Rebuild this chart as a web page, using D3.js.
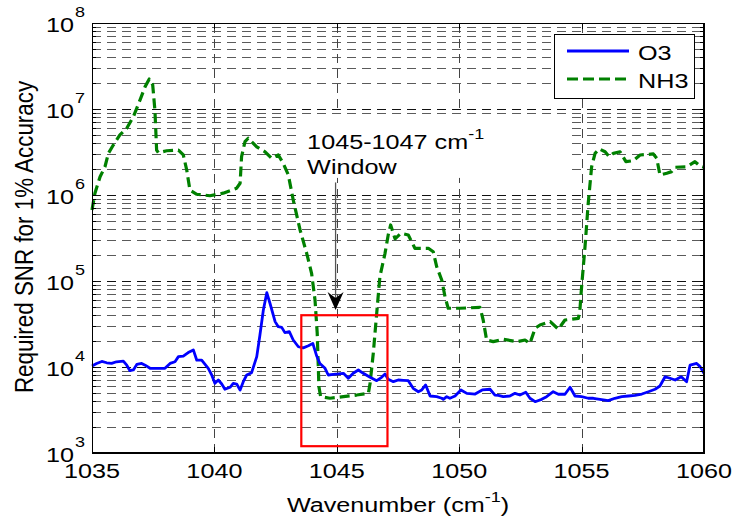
<!DOCTYPE html>
<html>
<head>
<meta charset="utf-8">
<script src="https://cdn.jsdelivr.net/npm/d3@7"></script>
<style>
  html, body { margin: 0; padding: 0; background: #fff; }
  svg { display: block; font-family: Arial, "Liberation Sans", sans-serif; }
</style>
</head>
<body>
<svg id="chart" width="736" height="521"></svg>
<script>
// ---- data -------------------------------------------------------------
const seriesNames = ["O3", "NH3"];

const wavenumberO3 = [
  1035.0, 1035.19, 1035.4, 1035.6, 1035.8, 1036.0, 1036.28, 1036.42, 1036.55, 1036.69,
  1036.83, 1037.03, 1037.17, 1037.37, 1037.64, 1037.98, 1038.19, 1038.39, 1038.53, 1038.73,
  1038.93, 1039.14, 1039.28, 1039.48, 1039.75, 1039.89, 1040.02, 1040.16, 1040.3, 1040.43,
  1040.64, 1040.77, 1040.91, 1041.05, 1041.18, 1041.32, 1041.52, 1041.73, 1041.86, 1042.0,
  1042.14, 1042.27, 1042.48, 1042.61, 1042.75, 1042.88, 1043.06, 1043.22, 1043.43, 1043.63,
  1043.84, 1044.02, 1044.18, 1044.31, 1044.52, 1044.65, 1044.86, 1045.06, 1045.27, 1045.47,
  1045.67, 1045.88, 1046.08, 1046.36, 1046.63, 1046.83, 1046.97, 1047.1, 1047.31, 1047.51,
  1047.72, 1047.92, 1048.12, 1048.33, 1048.47, 1048.63, 1048.81, 1049.08, 1049.29, 1049.35,
  1049.49, 1049.62, 1049.83, 1050.07, 1050.31, 1050.65, 1050.94, 1051.26, 1051.46, 1051.6,
  1051.8, 1052.07, 1052.28, 1052.48, 1052.72, 1052.89, 1053.1, 1053.37, 1053.57, 1053.84,
  1054.05, 1054.32, 1054.53, 1054.73, 1055.0, 1055.27, 1055.48, 1055.75, 1056.09, 1056.36,
  1056.64, 1056.91, 1057.18, 1057.46, 1057.73, 1058.0, 1058.2, 1058.41, 1058.61, 1058.82,
  1059.07, 1059.29, 1059.43, 1059.7, 1059.84, 1060.0
];
const snrO3 = [
  1.03e4, 1.10e4, 1.16e4, 1.12e4, 1.10e4, 1.15e4, 1.17e4, 1.05e4, 9.06e3, 9.23e3,
  1.07e4, 1.10e4, 1.05e4, 9.66e3, 9.66e3, 9.66e3, 1.10e4, 1.15e4, 1.32e4, 1.34e4,
  1.47e4, 1.58e4, 1.20e4, 1.20e4, 9.66e3, 8.07e3, 6.46e3, 7.06e3, 6.34e3, 5.51e3,
  5.81e3, 6.46e3, 6.34e3, 5.41e3, 6.75e3, 8.07e3, 8.59e3, 1.32e4, 2.36e4, 4.60e4,
  7.31e4, 5.51e4, 3.37e4, 2.94e4, 2.89e4, 2.51e4, 2.58e4, 2.06e4, 1.72e4, 1.67e4,
  1.77e4, 1.88e4, 1.34e4, 1.10e4, 9.66e3, 8.07e3, 8.22e3, 8.30e3, 8.45e3, 7.40e3,
  8.45e3, 9.23e3, 8.45e3, 7.59e3, 6.93e3, 7.59e3, 8.30e3, 7.19e3, 6.75e3, 7.06e3,
  7.0e3, 6.93e3, 5.65e3, 5.16e3, 5.41e3, 6.18e3, 4.60e3, 4.52e3, 4.33e3, 4.21e3,
  4.52e3, 4.33e3, 4.60e3, 5.41e3, 4.94e3, 4.85e3, 5.41e3, 5.51e3, 4.72e3, 4.68e3,
  4.52e3, 4.60e3, 4.94e3, 4.72e3, 5.08e3, 4.33e3, 3.95e3, 4.21e3, 4.52e3, 5.16e3,
  4.82e3, 4.82e3, 5.81e3, 4.60e3, 4.52e3, 4.33e3, 4.33e3, 4.21e3, 4.06e3, 4.33e3,
  4.52e3, 4.60e3, 4.68e3, 4.85e3, 5.16e3, 5.51e3, 6.01e3, 7.71e3, 7.40e3, 7.06e3,
  7.71e3, 6.75e3, 1.05e4, 1.10e4, 1.01e4, 8.45e3
];

const wavenumberNH3 = [
  1035.0, 1035.12, 1035.33, 1035.53, 1035.67, 1035.87, 1036.14, 1036.42, 1036.69, 1036.96,
  1037.17, 1037.34, 1037.48, 1037.57, 1037.64, 1037.71, 1038.05, 1038.53, 1038.73, 1038.87,
  1039.0, 1039.28, 1039.82, 1040.36, 1040.91, 1041.05, 1041.11, 1041.25, 1041.38, 1041.73,
  1042.07, 1042.34, 1042.61, 1042.81, 1043.02, 1043.22, 1043.5, 1043.77, 1043.97, 1044.11,
  1044.2, 1044.27, 1044.34, 1044.72, 1045.27, 1045.81, 1046.29, 1046.36, 1046.49, 1046.63,
  1046.76, 1046.97, 1047.1, 1047.2, 1047.38, 1047.62, 1047.92, 1048.19, 1048.74, 1048.94,
  1049.08, 1049.29, 1049.42, 1049.55, 1050.03, 1050.85, 1050.98, 1051.12, 1051.39, 1051.8,
  1052.35, 1052.69, 1052.89, 1053.1, 1053.3, 1053.72, 1054.05, 1054.32, 1054.87, 1054.93,
  1055.0, 1055.14, 1055.27, 1055.41, 1055.55, 1055.72, 1055.96, 1056.13, 1056.3, 1056.57,
  1056.81, 1057.11, 1057.39, 1057.93, 1058.07, 1058.2, 1058.48, 1058.68, 1058.82, 1059.29,
  1059.63, 1059.84, 1060.0
];
const snrNH3 = [
  6.7e5, 1.05e6, 1.63e6, 2.13e6, 3.05e6, 3.81e6, 4.99e6, 5.97e6, 8.13e6, 1.27e7,
  1.82e7, 2.23e7, 1.91e7, 9.73e6, 3.33e6, 3.10e6, 3.27e6, 3.33e6, 2.92e6, 1.95e6,
  1.14e6, 1.02e6, 9.8e5, 1.05e6, 1.20e6, 1.37e6, 2.79e6, 4.17e6, 4.57e6, 3.63e6,
  3.18e6, 2.67e6, 2.92e6, 2.34e6, 1.71e6, 8.75e5, 3.92e5, 2.10e5, 1.23e5, 6.01e4,
  2.47e4, 5.89e3, 4.52e3, 4.33e3, 4.52e3, 4.72e3, 4.94e3, 6.46e3, 1.44e4, 4.21e4,
  1.12e5, 2.10e5, 3.43e5, 4.48e5, 3.09e5, 3.59e5, 3.43e5, 2.40e5, 2.40e5, 2.19e5,
  1.47e5, 1.02e5, 6.56e4, 4.82e4, 4.82e4, 4.94e4, 3.52e4, 2.06e4, 1.97e4, 2.10e4,
  1.97e4, 2.06e4, 1.88e4, 2.82e4, 3.08e4, 3.37e4, 2.75e4, 3.52e4, 3.68e4, 4.60e4,
  8.59e4, 2.51e5, 8.0e5, 2.13e6, 3.05e6, 3.43e6, 3.18e6, 2.79e6, 3.05e6, 3.18e6,
  2.44e6, 2.51e6, 2.92e6, 3.0e6, 2.67e6, 1.71e6, 1.79e6, 1.87e6, 2.10e6, 2.13e6,
  2.44e6, 2.17e6, 2.10e6
];

const xTicks = [1035, 1040, 1045, 1050, 1055, 1060];
const yExponents = [3, 4, 5, 6, 7, 8];

// highlighted spectral window and its callout
const windowRange = [1043.55, 1047.07];
const windowSNR = [1.2e3, 4.0e4];
const calloutRange = [1043.42, 1054.6];
const calloutSNR = [1.58e6, 8.75e6];
const arrowWavenumber = 1044.95;
const arrowSNR = [1.4e6, 4.6e4];
const calloutLines = ["1045-1047 cm", "-1", "Window"];

const xLabel = ["Wavenumber (cm", "-1", ")"];
const yLabel = "Required SNR for 1% Accuracy";

// ---- layout -------------------------------------------------------------
const W = 736, H = 521;
const margin = { left: 92, right: 32, top: 23, bottom: 68 };
const plotW = W - margin.left - margin.right;
const plotH = H - margin.top - margin.bottom;
const SX = 1.2;          // horizontal glyph stretch
const FS = 21;           // main font size
const FS_SUP = 15;       // superscript font size
const GRID_DASH = "9,6";

const svg = d3.select("#chart");

const x = d3.scaleLinear().domain([1035, 1060]).range([margin.left, margin.left + plotW]);
const y = d3.scaleLog().domain([1e3, 1e8]).range([margin.top + plotH, margin.top]);

function addText(parent, px, py, anchor, size) {
  return parent.append("text")
    .attr("transform", `translate(${px},${py}) scale(${SX},1)`)
    .attr("text-anchor", anchor)
    .attr("font-size", size)
    .attr("fill", "#000");
}

// ---- grid -------------------------------------------------------------
const grid = svg.append("g").attr("shape-rendering", "crispEdges").attr("fill", "none");

const minorVals = [];
yExponents.slice(0, -1).forEach(e => {
  for (let m = 2; m <= 9; m++) minorVals.push(m * Math.pow(10, e));
});
const majorVals = yExponents.slice(1, -1).map(e => Math.pow(10, e));

grid.selectAll("line.minor").data(minorVals).join("line")
  .attr("class", "minor")
  .attr("x1", x.range()[0]).attr("x2", x.range()[1])
  .attr("y1", d => Math.round(y(d)) + 0.5).attr("y2", d => Math.round(y(d)) + 0.5)
  .attr("stroke", "#5a5a5a").attr("stroke-width", 1).attr("stroke-dasharray", GRID_DASH);

grid.selectAll("line.major").data(majorVals).join("line")
  .attr("class", "major")
  .attr("x1", x.range()[0]).attr("x2", x.range()[1])
  .attr("y1", d => Math.round(y(d)) + 0.5).attr("y2", d => Math.round(y(d)) + 0.5)
  .attr("stroke", "#111").attr("stroke-width", 1).attr("stroke-dasharray", GRID_DASH);

grid.selectAll("line.vgrid").data(xTicks.slice(1, -1)).join("line")
  .attr("class", "vgrid")
  .attr("x1", d => Math.round(x(d)) + 0.5).attr("x2", d => Math.round(x(d)) + 0.5)
  .attr("y1", y.range()[0]).attr("y2", y.range()[1])
  .attr("stroke", "#444").attr("stroke-width", 1).attr("stroke-dasharray", GRID_DASH);

// white background of the callout text
svg.append("rect")
  .attr("x", x(calloutRange[0])).attr("y", y(calloutSNR[1]))
  .attr("width", x(calloutRange[1]) - x(calloutRange[0]))
  .attr("height", y(calloutSNR[0]) - y(calloutSNR[1]))
  .attr("fill", "#fff");

// ---- series -------------------------------------------------------------
const lineGen = d3.line().x(d => x(d[0])).y(d => y(d[1]));
const o3 = wavenumberO3.map((w, i) => [w, snrO3[i]]);
const nh3 = wavenumberNH3.map((w, i) => [w, snrNH3[i]]);

svg.append("path").datum(nh3)
  .attr("d", lineGen).attr("fill", "none")
  .attr("stroke", "#008000").attr("stroke-width", 3.2)
  .attr("stroke-dasharray", "10,5").attr("stroke-linejoin", "round");

svg.append("path").datum(o3)
  .attr("d", lineGen).attr("fill", "none")
  .attr("stroke", "#0000ff").attr("stroke-width", 2.8)
  .attr("stroke-linejoin", "round");

// ---- window box, arrow, callout text ---------------------------------
svg.append("rect")
  .attr("x", x(windowRange[0])).attr("y", y(windowSNR[1]))
  .attr("width", x(windowRange[1]) - x(windowRange[0]))
  .attr("height", y(windowSNR[0]) - y(windowSNR[1]))
  .attr("fill", "none").attr("stroke", "#ff0000").attr("stroke-width", 2.2);

const ax = x(arrowWavenumber);
const tipY = y(arrowSNR[1]);
svg.append("line")
  .attr("x1", ax).attr("x2", ax)
  .attr("y1", y(arrowSNR[0])).attr("y2", tipY - 10)
  .attr("stroke", "#555").attr("stroke-width", 1.3);
svg.append("path")
  .attr("d", `M${ax},${tipY} L${ax - 8},${tipY - 18} L${ax},${tipY - 12} L${ax + 8},${tipY - 18} Z`)
  .attr("fill", "#000");

const cx0 = x(calloutRange[0]) + 9;
const cy0 = y(calloutSNR[1]);
const t1 = addText(svg, cx0, cy0 + 35, "start", FS);
t1.append("tspan").text(calloutLines[0]);
t1.append("tspan").attr("dy", -10).attr("font-size", FS_SUP).text(calloutLines[1]);
addText(svg, cx0, cy0 + 60, "start", FS).text(calloutLines[2]);

// ---- axes -------------------------------------------------------------
const axes = svg.append("g").attr("shape-rendering", "crispEdges");
const tickVals = minorVals.concat(majorVals);

axes.append("g").attr("transform", `translate(0,${y.range()[0]})`)
  .call(d3.axisBottom(x).tickValues(xTicks).tickSizeInner(-6).tickSizeOuter(0).tickFormat(""));
axes.append("g").attr("transform", `translate(0,${y.range()[1]})`)
  .call(d3.axisTop(x).tickValues(xTicks).tickSizeInner(-6).tickSizeOuter(0).tickFormat(""));
axes.append("g").attr("transform", `translate(${x.range()[0]},0)`)
  .call(d3.axisLeft(y).tickValues(tickVals).tickSizeInner(-4).tickSizeOuter(0).tickFormat(""));
axes.append("g").attr("transform", `translate(${x.range()[1]},0)`)
  .call(d3.axisRight(y).tickValues(tickVals).tickSizeInner(-4).tickSizeOuter(0).tickFormat(""));
axes.selectAll(".domain, .tick line").attr("stroke", "#000").attr("stroke-width", 1);

axes.append("rect")
  .attr("x", x.range()[0] + 0.5).attr("y", y.range()[1] + 0.5)
  .attr("width", plotW - 1).attr("height", plotH - 1)
  .attr("fill", "none").attr("stroke", "#000").attr("stroke-width", 1);

// x tick labels
xTicks.forEach(v => {
  addText(svg, x(v), y.range()[0] + 25, "middle", FS).text(v);
});

// y tick labels: 10 with raised exponent
yExponents.forEach(e => {
  const py = y(Math.pow(10, e));
  addText(svg, x.range()[0] - 18, py + 9, "end", FS).text("10");
  addText(svg, x.range()[0] - 17, py - 6, "start", FS_SUP).text(e);
});

// axis titles
const xl = addText(svg, (x.range()[0] + x.range()[1]) / 2, H - 9, "middle", FS);
xl.append("tspan").text(xLabel[0]);
xl.append("tspan").attr("dy", -10).attr("font-size", FS_SUP).text(xLabel[1]);
xl.append("tspan").attr("dy", 10).text(xLabel[2]);

svg.append("text")
  .attr("transform", `translate(33,${(y.range()[0] + y.range()[1]) / 2 - 1}) scale(1.14,1) rotate(-90)`)
  .attr("text-anchor", "middle").attr("font-size", 22.4).attr("fill", "#000")
  .text(yLabel);

// ---- legend -------------------------------------------------------------
const lg = svg.append("g").attr("transform", `translate(${x.range()[1] - 150},${y.range()[1] + 11})`);
lg.append("rect").attr("x", 0.5).attr("y", 0.5).attr("width", 140).attr("height", 64)
  .attr("fill", "#fff").attr("stroke", "#000").attr("stroke-width", 1)
  .attr("shape-rendering", "crispEdges");
const legendStyles = [
  { color: "#0000ff", dash: null, width: 2.8 },
  { color: "#008000", dash: "11,5", width: 3.2 }
];
seriesNames.forEach((name, i) => {
  const ly = 17 + i * 28;
  lg.append("line").attr("x1", 13).attr("x2", 75).attr("y1", ly).attr("y2", ly)
    .attr("stroke", legendStyles[i].color).attr("stroke-width", legendStyles[i].width)
    .attr("stroke-dasharray", legendStyles[i].dash);
  addText(lg, 84, ly + 9, "start", FS).text(name);
});
</script>
</body>
</html>
